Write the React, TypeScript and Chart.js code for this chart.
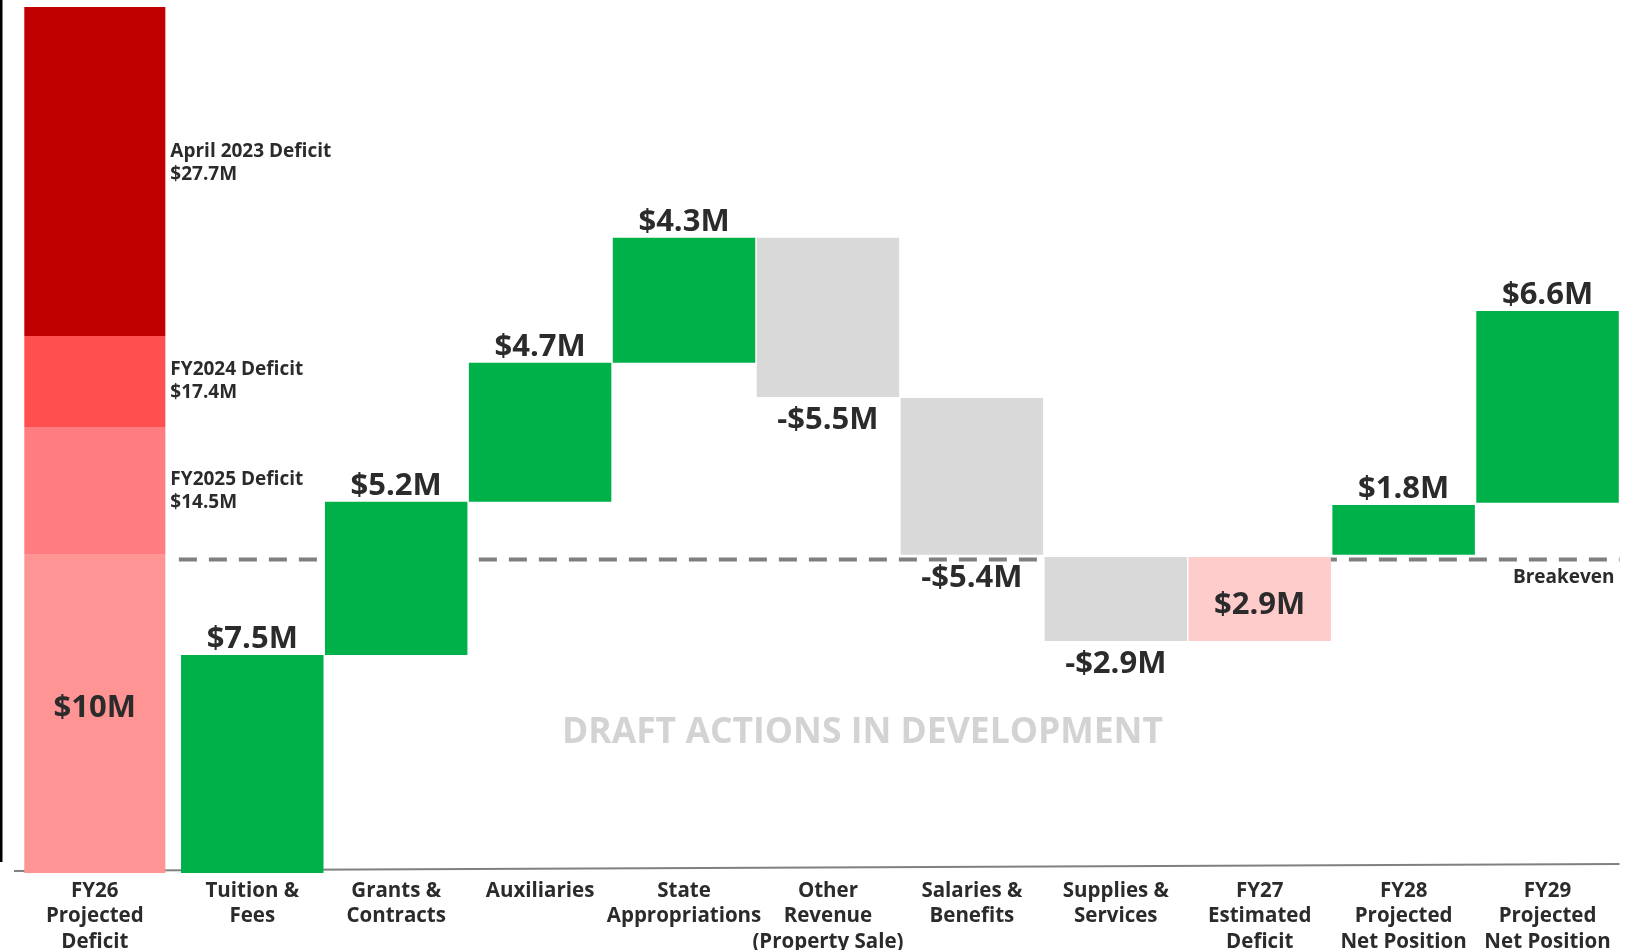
import React, { useEffect, useRef } from "react";
import { Chart, registerables } from "chart.js";

Chart.register(...registerables);

// ---------- data ----------
const categories = [
  "FY26 Projected Deficit",
  "Tuition & Fees",
  "Grants & Contracts",
  "Auxiliaries",
  "State Appropriations",
  "Other Revenue (Property Sale)",
  "Salaries & Benefits",
  "Supplies & Services",
  "FY27 Estimated Deficit",
  "FY28 Projected Net Position",
  "FY29 Projected Net Position",
];

const tickLines: string[][] = [
  ["FY26", "Projected", "Deficit"],
  ["Tuition &", "Fees"],
  ["Grants &", "Contracts"],
  ["Auxiliaries"],
  ["State", "Appropriations"],
  ["Other", "Revenue", "(Property Sale)"],
  ["Salaries &", "Benefits"],
  ["Supplies &", "Services"],
  ["FY27", "Estimated", "Deficit"],
  ["FY28", "Projected", "Net Position"],
  ["FY29", "Projected", "Net Position"],
];

// First bar: deficit history segments ($M, relative to breakeven = 0)
const deficitSegmentNames = ["FY26 Projected Deficit", "FY2025 Deficit", "FY2024 Deficit", "April 2023 Deficit"];
const deficitSegmentFrom = [-10.81, 0.16, 4.57, 7.71];
const deficitSegmentTo = [0.16, 4.57, 7.71, 19.6];
const deficitSegmentLabels = ["$10M", "$14.5M", "$17.4M", "$27.7M"];

// Waterfall steps for the remaining categories ($M, relative to breakeven = 0)
const stepFrom = [-10.81, -3.29, 1.99, 6.78, 11.09, 5.57, 0.09, 0.09, 0.16, 1.96];
const stepTo = [-3.29, 1.99, 6.78, 11.09, 5.6, 0.16, -2.81, -2.81, 1.88, 8.57];
const stepKinds = [
  "increase", "increase", "increase", "increase",
  "decrease", "decrease", "decrease",
  "deficit", "increase", "increase",
];
const stepLabels = ["$7.5M", "$5.2M", "$4.7M", "$4.3M", "-$5.5M", "-$5.4M", "-$2.9M", "$2.9M", "$1.8M", "$6.6M"];

const BREAKEVEN = 0;
const Y_MIN = -10.81;
const Y_MAX = 19.05;

// ---------- styles ----------
const FONT = "'Open Sans', 'Noto Sans', sans-serif";
const TEXT = "#2b2b2b";
const FIRST_SHIFT = 0.094;
const segmentColors = ["#FF9494", "#FF7C80", "#FF5050", "#C00000"];
const kindColors: Record<string, string> = {
  increase: "#00B14A",
  decrease: "#D9D9D9",
  deficit: "#FFCCCC",
};

const annotations = {
  id: "annotations",
  beforeDatasetsDraw(chart: any) {
    const { ctx, chartArea, scales } = chart;
    const x = scales.x;
    const y = scales.y;
    ctx.save();
    // left frame line
    ctx.fillStyle = "#000";
    ctx.fillRect(0, 0, 2.5, 862);
    // baseline
    ctx.strokeStyle = "#808080";
    ctx.lineWidth = 2;
    ctx.beginPath();
    ctx.moveTo(14, chartArea.bottom - 2);
    ctx.lineTo(chartArea.right, chartArea.bottom - 9);
    ctx.stroke();
    // breakeven dashed line
    const by = y.getPixelForValue(BREAKEVEN);
    ctx.strokeStyle = "#7F7F7F";
    ctx.lineWidth = 4;
    ctx.setLineDash([18, 12]);
    ctx.beginPath();
    ctx.moveTo(x.getPixelForValue(0.49), by);
    ctx.lineTo(chartArea.right, by);
    ctx.stroke();
    ctx.setLineDash([]);
    // watermark
    ctx.fillStyle = "#D3D3D3";
    ctx.font = `700 35.5px ${FONT}`;
    ctx.textAlign = "center";
    ctx.textBaseline = "middle";
    ctx.fillText("DRAFT ACTIONS IN DEVELOPMENT", x.getPixelForValue(5.24), y.getPixelForValue(-5.98));
    ctx.restore();
  },
  afterDatasetsDraw(chart: any) {
    const { ctx, chartArea, scales } = chart;
    const y = scales.y;
    ctx.save();
    ctx.fillStyle = TEXT;
    ctx.textBaseline = "middle";

    // first bar segments
    const m0 = chart.getDatasetMeta(0);
    m0.data.forEach((el: any, i: number) => {
      const top = Math.min(el.y, el.base);
      const bottom = Math.max(el.y, el.base);
      const cy = (top + bottom) / 2;
      if (i === 0) {
        ctx.font = `700 31px ${FONT}`;
        ctx.textAlign = "center";
        ctx.fillText(deficitSegmentLabels[i], el.x, cy - 6);
      } else {
        ctx.font = `700 19px ${FONT}`;
        ctx.textAlign = "left";
        const lx = el.x + el.width / 2 + 5;
        ctx.fillText(deficitSegmentNames[i], lx, cy - 11.5);
        ctx.fillText(deficitSegmentLabels[i], lx, cy + 11.5);
      }
    });

    // step labels
    const m1 = chart.getDatasetMeta(1);
    ctx.font = `700 31px ${FONT}`;
    ctx.textAlign = "center";
    m1.data.forEach((el: any, i: number) => {
      const top = Math.min(el.y, el.base);
      const bottom = Math.max(el.y, el.base);
      let cy;
      if (stepKinds[i] === "increase") cy = top - 16;
      else if (stepKinds[i] === "decrease") cy = bottom + 23.5;
      else cy = (top + bottom) / 2 + 6;
      ctx.fillText(stepLabels[i], el.x, cy);
    });

    // breakeven label
    ctx.font = `700 19px ${FONT}`;
    ctx.textAlign = "right";
    ctx.fillText("Breakeven", chartArea.right - 5, y.getPixelForValue(BREAKEVEN) + 18.5);
    ctx.restore();
  },
};

export default function App() {
  const canvasRef = useRef<HTMLCanvasElement | null>(null);

  useEffect(() => {
    const canvas = canvasRef.current;
    if (!canvas) return;
    const chart = new Chart(canvas, {
      type: "bar",
      data: {
        datasets: [
          {
            label: "Deficit history",
            data: deficitSegmentFrom.map((from, i) => ({ x: -FIRST_SHIFT, y: [from, deficitSegmentTo[i]] })) as any,
            backgroundColor: segmentColors,
            grouped: false,
            barPercentage: 0.98,
            categoryPercentage: 1,
            clip: 0,
          } as any,
          {
            label: "Changes",
            data: stepFrom.map((from, i) => ({ x: i + 1, y: [from, stepTo[i]] })) as any,
            backgroundColor: stepKinds.map((k) => kindColors[k]),
            grouped: false,
            barPercentage: 0.99,
            categoryPercentage: 1,
          } as any,
        ],
      },
      options: {
        responsive: false,
        animation: false,
        events: [],
        layout: { padding: { left: 22, right: 15.5, top: 7, bottom: 0 } },
        plugins: { legend: { display: false }, tooltip: { enabled: false } },
        scales: {
          x: {
            type: "linear",
            min: -0.6,
            max: 10.5,
            bounds: "data",
            offset: false,
            grid: { display: false, offset: false },
            border: { display: false },
            afterBuildTicks: (scale: any) => {
              scale.ticks = categories.map((_, i) => ({ value: i === 0 ? -FIRST_SHIFT : i }));
            },
            afterFit: (scale: any) => {
              scale.height = 77;
              scale.paddingLeft = 0;
              scale.paddingRight = 0;
            },
            ticks: {
              autoSkip: false,
              maxRotation: 0,
              minRotation: 0,
              padding: -3,
              color: TEXT,
              font: { family: FONT, weight: "700", size: 20.5, lineHeight: 1.245 },
              callback: (_v: any, i: number) => tickLines[i],
            },
          } as any,
          y: {
            type: "linear",
            display: false,
            min: Y_MIN,
            max: Y_MAX,
          },
        },
      },
      plugins: [annotations],
    });
    return () => chart.destroy();
  }, []);

  return (
    <div style={{ position: "absolute", left: 0, top: 0, width: 1635, height: 950, background: "#fff" }}>
      <canvas ref={canvasRef} width={1635} height={950} style={{ display: "block" }} />
    </div>
  );
}
